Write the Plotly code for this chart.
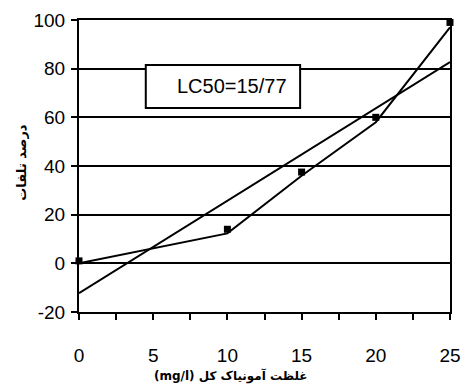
import plotly.graph_objects as go

# observed points
conc = [0, 10, 15, 20, 25]
mortality = [1, 14, 37.5, 60, 99]
# connecting line drawn in the figure
line_y = [0, 12.3, 36, 58, 97]
# linear fit line endpoints
fit_x = [0, 25]
fit_y = [-12.3, 82.7]

x_ticks = [0, 5, 10, 15, 20, 25]
y_ticks = [-20, 0, 20, 40, 60, 80, 100]
y_tick_text = ["-20", "0", "20", "40", "60", "80", "100"]
lc50_label = "LC50=15/77"
x_title = "(mg/l) غلظت آمونیاک کل"
y_title = "درصد تلفات"

W, H = 470, 387
L, R, T, B = 79, 9, 20, 75
PW, PH = W - L - R, H - T - B

fig = go.Figure()
fig.add_trace(go.Scatter(x=fit_x, y=fit_y, mode="lines",
                         line=dict(color="black", width=2), showlegend=False))
fig.add_trace(go.Scatter(x=conc, y=line_y, mode="lines",
                         line=dict(color="black", width=2), showlegend=False))
fig.add_trace(go.Scatter(x=conc, y=mortality, mode="markers",
                         marker=dict(symbol="square", size=7, color="black"),
                         cliponaxis=False, showlegend=False))

tickfont = dict(family="Liberation Sans, Arial", size=19, color="black")
fig.update_layout(
    width=W, height=H,
    margin=dict(l=L, r=R, t=T, b=B),
    plot_bgcolor="white", paper_bgcolor="white",
    xaxis=dict(range=[0, 25], tickvals=x_ticks, ticks="outside", ticklen=6,
               tickwidth=1.5, tickcolor="black",
               minor=dict(dtick=2.5, ticks="outside", ticklen=6, tickwidth=1.5,
                          tickcolor="black"),
               showgrid=False, zeroline=False, showline=True, linecolor="black",
               linewidth=2, mirror=True, tickfont=tickfont, ticklabelstandoff=19),
    yaxis=dict(range=[-20, 100], tickvals=y_ticks, ticktext=y_tick_text,
               ticks="outside", ticklen=6, tickwidth=1.5, tickcolor="black",
               showgrid=True, gridcolor="black", gridwidth=1.5, zeroline=False,
               showline=True, linecolor="black", linewidth=2, mirror=True,
               tickfont=tickfont, ticklabelstandoff=2),
)

fig.add_shape(type="rect", xref="x", yref="y", x0=4.5, x1=14.9, y0=63.8, y1=81.5,
              line=dict(color="black", width=2), fillcolor="white", layer="above")
fig.add_annotation(x=10.3, y=72.8, xref="x", yref="y", text=lc50_label, showarrow=False,
                   xanchor="center", yanchor="middle",
                   font=dict(family="Liberation Sans, Arial", size=20, color="black"))
# x title (page coords: center x=235, y=376)
fig.add_annotation(xref="paper", yref="paper",
                   x=(235 - L) / PW, y=-(376 - (T + PH)) / PH,
                   xanchor="center", yanchor="middle",
                   text="<b>" + x_title + "</b>", showarrow=False,
                   font=dict(family="DejaVu Sans", size=12, color="black"))
# y title (page coords: center x=20, y=162)
fig.add_annotation(xref="paper", yref="paper",
                   x=(20 - L) / PW, y=1 - (162 - T) / PH,
                   xanchor="center", yanchor="middle",
                   text="<b>" + y_title + "</b>", textangle=-90, showarrow=False,
                   font=dict(family="DejaVu Sans", size=13, color="black"))

fig.write_html("out.html", config={"displayModeBar": False},
               post_script="document.body.style.margin='0';")
